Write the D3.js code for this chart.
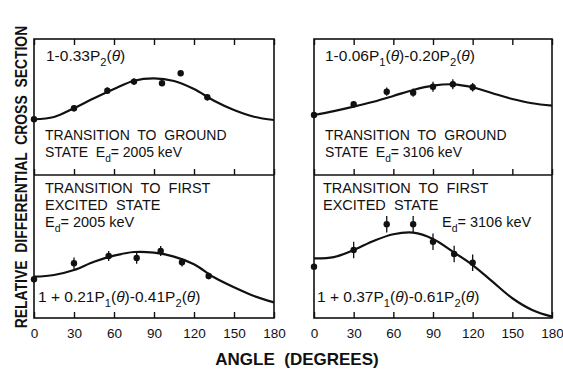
<!DOCTYPE html>
<html>
<head>
<meta charset="utf-8">
<script src="https://cdn.jsdelivr.net/npm/d3@7"></script>
<style>
  body { margin: 0; background: #fff; }
  text { font-family: "Liberation Sans", Arial, sans-serif; fill: #111; white-space: pre; }
</style>
</head>
<body>
<svg id="chart" width="563" height="369"></svg>
<script>
// x ticks shared by all panels
const angleTicks = [0, 30, 60, 90, 120, 150, 180];
const curveAngles = [0, 15, 30, 45, 60, 75, 90, 105, 120, 135, 150, 165, 180];

// ground state, Ed = 2005 keV
const g2005Curve = [0.672, 0.70, 0.806, 0.925, 1.037, 1.137, 1.166, 1.134, 1.037, 0.896, 0.784, 0.703, 0.663];
const g2005Angles = [0, 30, 55, 75, 96, 110, 130];
const g2005Values = [0.672, 0.805, 1.017, 1.126, 1.106, 1.227, 0.937];
const g2005Errors = [0.03, 0.04, 0.04, 0.04, 0.03, 0.02, 0.04];

// ground state, Ed = 3106 keV
const g3106Curve = [0.724, 0.77, 0.824, 0.884, 0.953, 1.025, 1.077, 1.094, 1.058, 0.986, 0.917, 0.865, 0.836];
const g3106Angles = [0, 30, 55, 75, 90, 105, 120];
const g3106Values = [0.724, 0.853, 1.005, 0.993, 1.065, 1.094, 1.058];
const g3106Errors = [0.03, 0.04, 0.05, 0.05, 0.06, 0.06, 0.05];

// first excited state, Ed = 2005 keV
const x2005Curve = [0.498, 0.519, 0.579, 0.679, 0.752, 0.796, 0.788, 0.74, 0.648, 0.491, 0.37, 0.265, 0.189];
const x2005Angles = [0, 30, 56, 77, 95, 111, 131];
const x2005Values = [0.467, 0.66, 0.748, 0.724, 0.808, 0.672, 0.507];
const x2005Errors = [0.04, 0.07, 0.06, 0.07, 0.06, 0.05, 0.04];

// first excited state, Ed = 3106 keV
const x3106Curve = [0.72, 0.735, 0.82, 0.929, 1.01, 1.029, 0.953, 0.8, 0.639, 0.438, 0.238, 0.097, 0.016];
const x3106Angles = [0, 30, 55, 75, 90, 106, 120];
const x3106Values = [0.619, 0.82, 1.13, 1.13, 0.92, 0.772, 0.667];
const x3106Errors = [0.03, 0.1, 0.1, 0.1, 0.1, 0.1, 0.1];

const svg = d3.select('#chart');

const cols = [[34, 274], [314, 552]];
const top0 = 39, mid = 175, bottom = 318;

const xs = cols.map((r) => d3.scaleLinear().domain([0, 180]).range(r));
const yTop = d3.scaleLinear().domain([0, 1.64]).range([mid, top0]);
const yBot = d3.scaleLinear().domain([0, 1.725]).range([bottom, mid]);

// frames and ticks
cols.forEach((r, i) => {
    const g = svg.append('g');
    g.append('rect')
        .attr('x', r[0]).attr('y', top0)
        .attr('width', r[1] - r[0]).attr('height', bottom - top0)
        .attr('fill', 'none').attr('stroke', '#111').attr('stroke-width', 1.6);
    g.append('line')
        .attr('x1', r[0]).attr('x2', r[1]).attr('y1', mid).attr('y2', mid)
        .attr('stroke', '#111').attr('stroke-width', 1.6);

    const x = xs[i];
    const noLabels = (a) => a.tickValues(angleTicks).tickSizeOuter(0).tickFormat('');
    svg.append('g').attr('transform', `translate(0,${top0})`)
        .call(noLabels(d3.axisTop(x).tickSizeInner(-6)));
    svg.append('g').attr('transform', `translate(0,${mid})`)
        .call(noLabels(d3.axisBottom(x).tickSizeInner(-6)));
    svg.append('g').attr('class', 'xaxis').attr('transform', `translate(0,${bottom})`)
        .call(d3.axisBottom(x).tickValues(angleTicks).tickSizeInner(-6).tickSizeOuter(0).tickPadding(10));
});

svg.selectAll('.domain').remove();
svg.selectAll('.tick line').attr('stroke', '#111').attr('stroke-width', 1.4);
svg.selectAll('.xaxis text')
    .style('font-family', '"Liberation Sans", Arial, sans-serif')
    .style('font-size', '13.5px').attr('fill', '#111');

function drawPanel(x, y, curve, angles, values, errors) {
    const g = svg.append('g');
    const line = d3.line()
        .x((d, i) => x(curveAngles[i]))
        .y((d) => y(d))
        .curve(d3.curveCatmullRom);
    g.append('path').datum(curve)
        .attr('d', line).attr('fill', 'none')
        .attr('stroke', '#111').attr('stroke-width', 2.2);

    const pts = angles.map((a, i) => ({ a, v: values[i], e: errors[i] }));
    g.selectAll('line.err').data(pts).join('line').classed('err', true)
        .attr('x1', (d) => x(d.a)).attr('x2', (d) => x(d.a))
        .attr('y1', (d) => y(d.v - d.e)).attr('y2', (d) => y(d.v + d.e))
        .attr('stroke', '#111').attr('stroke-width', 1.3);
    g.selectAll('circle').data(pts).join('circle')
        .attr('cx', (d) => x(d.a)).attr('cy', (d) => y(d.v))
        .attr('r', 3.2).attr('fill', '#111');
}

drawPanel(xs[0], yTop, g2005Curve, g2005Angles, g2005Values, g2005Errors);
drawPanel(xs[1], yTop, g3106Curve, g3106Angles, g3106Values, g3106Errors);
drawPanel(xs[0], yBot, x2005Curve, x2005Angles, x2005Values, x2005Errors);
drawPanel(xs[1], yBot, x3106Curve, x3106Angles, x3106Values, x3106Errors);

// text with subscripts and italic theta
function richText(x, y, parts, size) {
    const t = svg.append('text').attr('x', x).attr('y', y).style('font-size', size + 'px');
    let shift = 0;
    parts.forEach((p) => {
        const s = t.append('tspan');
        if (typeof p === 'string' || p.it) {
            s.text(p.it || p);
            if (p.it) s.style('font-style', 'italic');
            if (shift) { s.attr('dy', -shift); shift = 0; }
        } else {
            s.text(p.sub).attr('dy', 5).style('font-size', (size * 0.72) + 'px');
            shift = 5;
        }
    });
    return t;
}

const th = { it: 'θ' };
richText(46, 61, ['1-0.33P', { sub: '2' }, '(', th, ')'], 15.5);
richText(45, 140, ['TRANSITION  TO  GROUND'], 14);
richText(45, 156.5, ['STATE  E', { sub: 'd' }, '= 2005 keV'], 14);

richText(325, 61, ['1-0.06P', { sub: '1' }, '(', th, ')-0.20P', { sub: '2' }, '(', th, ')'], 15.5);
richText(325, 140, ['TRANSITION  TO  GROUND'], 14);
richText(325, 156.5, ['STATE  E', { sub: 'd' }, '= 3106 keV'], 14);

richText(45, 193, ['TRANSITION  TO  FIRST'], 14.5);
richText(45, 210, ['EXCITED  STATE'], 14.5);
richText(45, 227, ['E', { sub: 'd' }, '= 2005 keV'], 14.5);
richText(38, 302, ['1 + 0.21P', { sub: '1' }, '(', th, ')-0.41P', { sub: '2' }, '(', th, ')'], 15.5);

richText(323, 193, ['TRANSITION  TO  FIRST'], 14.5);
richText(323, 210, ['EXCITED  STATE'], 14.5);
richText(442, 227, ['E', { sub: 'd' }, '= 3106 keV'], 14.5);
richText(317, 302, ['1 + 0.37P', { sub: '1' }, '(', th, ')-0.61P', { sub: '2' }, '(', th, ')'], 15.5);

// axis titles
svg.append('text')
    .attr('transform', 'translate(27,177) rotate(-90) scale(0.87,1)')
    .attr('text-anchor', 'middle')
    .style('font-size', '16px').style('font-weight', 'bold')
    .text('RELATIVE  DIFFERENTIAL  CROSS  SECTION');

svg.append('text')
    .attr('x', 297).attr('y', 365)
    .attr('text-anchor', 'middle')
    .style('font-size', '17px').style('font-weight', 'bold')
    .text('ANGLE  (DEGREES)');
</script>
</body>
</html>
